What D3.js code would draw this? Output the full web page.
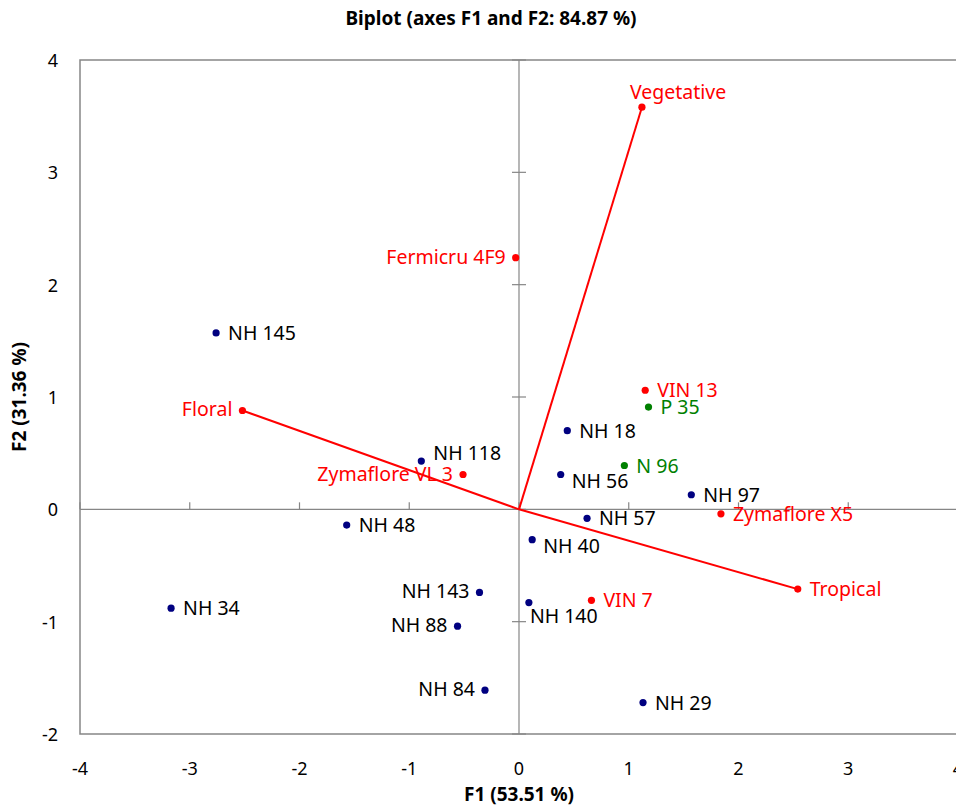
<!DOCTYPE html>
<html>
<head>
<meta charset="utf-8">
<script src="https://cdn.jsdelivr.net/npm/d3@7"></script>
<style>
  body { margin: 0; background: #fff; }
  text { font-family: "Noto Sans", sans-serif; }
</style>
</head>
<body>
<script>
// observations (blue), active / supplementary (red, green), variables (red with vector)
const names = ['NH 145', 'NH 18', 'NH 118', 'NH 56', 'NH 97', 'NH 57', 'NH 48', 'NH 40',
  'NH 143', 'NH 34', 'NH 140', 'NH 88', 'NH 84', 'NH 29',
  'Fermicru 4F9', 'VIN 13', 'Zymaflore VL 3', 'Zymaflore X5', 'VIN 7',
  'P 35', 'N 96',
  'Vegetative', 'Floral', 'Tropical'];
const f1 = [-2.76, 0.44, -0.89, 0.38, 1.57, 0.62, -1.57, 0.12,
  -0.36, -3.17, 0.09, -0.56, -0.31, 1.13,
  -0.03, 1.15, -0.51, 1.84, 0.66,
  1.18, 0.96,
  1.12, -2.52, 2.54];
const f2 = [1.57, 0.70, 0.43, 0.31, 0.13, -0.08, -0.14, -0.27,
  -0.74, -0.88, -0.83, -1.04, -1.61, -1.72,
  2.24, 1.06, 0.31, -0.04, -0.81,
  0.91, 0.39,
  3.58, 0.88, -0.71];
const groups = ['obs', 'obs', 'obs', 'obs', 'obs', 'obs', 'obs', 'obs',
  'obs', 'obs', 'obs', 'obs', 'obs', 'obs',
  'red', 'red', 'red', 'red', 'red',
  'green', 'green',
  'var', 'var', 'var'];
const xTicks = [-4, -3, -2, -1, 0, 1, 2, 3, 4];
const yTicks = [-2, -1, 0, 1, 2, 3, 4];

// where each label sits relative to its dot
const labelPlace = {
  'Fermicru 4F9': 'l', 'Floral': 'l', 'Zymaflore VL 3': 'l', 'NH 143': 'l', 'NH 88': 'l', 'NH 84': 'l',
  'NH 56': 'br', 'NH 40': 'br', 'NH 140': 'b', 'NH 118': 'tr', 'Vegetative': 't'
};

const points = names.map((n, i) => ({ name: n, x: f1[i], y: f2[i], group: groups[i] }));

const width = 956, height = 809;
const plot = { left: 80, right: 958, top: 60, bottom: 734 };

const xScale = d3.scaleLinear().domain([-4, 4]).range([plot.left, plot.right]);
const yScale = d3.scaleLinear().domain([-2, 4]).range([plot.bottom, plot.top]);

const colors = { obs: '#000080', red: '#ff0000', green: '#008000', var: '#ff0000' };
const textColors = { obs: '#000000', red: '#ff0000', green: '#008000', var: '#ff0000' };

const svg = d3.select('body')
  .append('svg')
  .attr('width', width)
  .attr('height', height);

// plot frame
svg.append('rect')
  .attr('x', plot.left)
  .attr('y', plot.top)
  .attr('width', plot.right - plot.left)
  .attr('height', plot.bottom - plot.top)
  .attr('fill', 'none')
  .attr('stroke', '#868686')
  .attr('stroke-width', 1.5);

// zero lines
svg.append('line')
  .attr('x1', plot.left).attr('x2', plot.right)
  .attr('y1', yScale(0)).attr('y2', yScale(0))
  .attr('stroke', '#868686').attr('stroke-width', 1.2);
svg.append('line')
  .attr('x1', xScale(0)).attr('x2', xScale(0))
  .attr('y1', plot.top).attr('y2', plot.bottom)
  .attr('stroke', '#868686').attr('stroke-width', 1.2);

// tick marks on the zero lines
svg.append('g')
  .selectAll('line')
  .data(xTicks)
  .join('line')
  .attr('x1', d => xScale(d)).attr('x2', d => xScale(d))
  .attr('y1', yScale(0) - 7).attr('y2', yScale(0))
  .attr('stroke', '#868686').attr('stroke-width', 1.2);
svg.append('g')
  .selectAll('line')
  .data(yTicks)
  .join('line')
  .attr('x1', xScale(0) - 7).attr('x2', xScale(0) + 7)
  .attr('y1', d => yScale(d)).attr('y2', d => yScale(d))
  .attr('stroke', '#868686').attr('stroke-width', 1.2);

// tick labels
svg.append('g')
  .selectAll('text')
  .data(xTicks)
  .join('text')
  .attr('x', d => xScale(d))
  .attr('y', 775)
  .attr('text-anchor', 'middle')
  .style('font-size', '18px')
  .text(d => d);
svg.append('g')
  .selectAll('text')
  .data(yTicks)
  .join('text')
  .attr('x', 58)
  .attr('y', d => yScale(d) + 7)
  .attr('text-anchor', 'end')
  .style('font-size', '18px')
  .text(d => d);

// variable vectors
svg.append('g')
  .selectAll('line')
  .data(points.filter(d => d.group === 'var'))
  .join('line')
  .attr('x1', xScale(0)).attr('y1', yScale(0))
  .attr('x2', d => xScale(d.x)).attr('y2', d => yScale(d.y))
  .attr('stroke', '#ff0000').attr('stroke-width', 2);

// dots
svg.append('g')
  .selectAll('circle')
  .data(points)
  .join('circle')
  .attr('cx', d => xScale(d.x))
  .attr('cy', d => yScale(d.y))
  .attr('r', 3.6)
  .attr('fill', d => colors[d.group]);

// labels
function labelOffset(d) {
  const p = labelPlace[d.name] || 'r';
  if (p === 'l') return [-10, 6, 'end'];
  if (p === 'br') return [11, 13, 'start'];
  if (p === 'b') return [1, 20, 'start'];
  if (p === 'tr') return [12, -1, 'start'];
  if (p === 't') return [-12, -8, 'start'];
  return [12, 7, 'start'];
}

svg.append('g')
  .selectAll('text')
  .data(points)
  .join('text')
  .attr('x', d => xScale(d.x) + labelOffset(d)[0])
  .attr('y', d => yScale(d.y) + labelOffset(d)[1])
  .attr('text-anchor', d => labelOffset(d)[2])
  .attr('fill', d => textColors[d.group])
  .style('font-size', '19.5px')
  .text(d => d.name);

// title and axis titles
svg.append('text')
  .attr('x', 491)
  .attr('y', 25)
  .attr('text-anchor', 'middle')
  .style('font-size', '19px')
  .style('font-weight', 'bold')
  .text('Biplot (axes F1 and F2: 84.87 %)');

svg.append('text')
  .attr('x', 519)
  .attr('y', 801)
  .attr('text-anchor', 'middle')
  .style('font-size', '19px')
  .style('font-weight', 'bold')
  .text('F1 (53.51 %)');

svg.append('text')
  .attr('transform', 'translate(26, 397) rotate(-90)')
  .attr('text-anchor', 'middle')
  .style('font-size', '19px')
  .style('font-weight', 'bold')
  .text('F2 (31.36 %)');
</script>
</body>
</html>
